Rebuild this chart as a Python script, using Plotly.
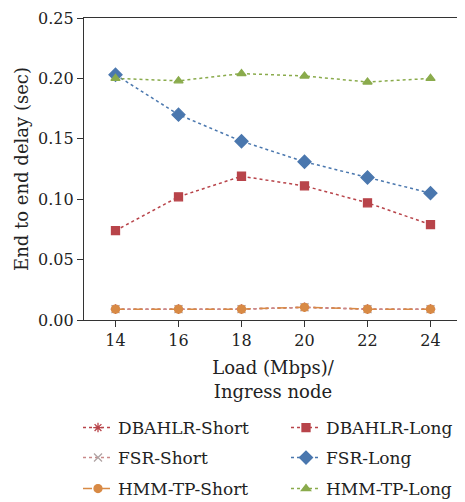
import plotly.graph_objects as go

loads = [14, 16, 18, 20, 22, 24]
dbahlr_short = [0.009, 0.009, 0.009, 0.0105, 0.009, 0.009]
fsr_short = [0.009, 0.009, 0.009, 0.0105, 0.009, 0.009]
hmm_short = [0.009, 0.009, 0.009, 0.0105, 0.009, 0.009]
dbahlr_long = [0.074, 0.102, 0.119, 0.111, 0.097, 0.079]
fsr_long = [0.203, 0.170, 0.148, 0.131, 0.118, 0.105]
hmm_long = [0.200, 0.198, 0.204, 0.202, 0.197, 0.200]

FONT = "DejaVu Serif"
RED = "#b8444a"
BLUE = "#4a77ae"
GREEN = "#8aab4c"
ORANGE = "#d88a45"
PINK = "#c98a8a"
GREY = "#b0a4a4"

# the page body adds an 8px offset; size the figure to fit the window
OFF = 8
W, H = 465 - OFF, 502 - OFF
L, T = 84 - OFF, 18 - OFF
R, B = 3, 182

fig = go.Figure()

def add(name, y, color, dash, symbol, size, legend, mcolor=None, lw=1.5):
    fig.add_trace(go.Scatter(
        x=loads, y=y, name=name, mode="lines+markers",
        line=dict(color=color, dash=dash, width=lw),
        marker=dict(symbol=symbol, size=size, color=mcolor or color,
                    line=dict(color=mcolor or color, width=1.3)),
        legend=legend,
    ))

add("DBAHLR-Short", dbahlr_short, RED, "dot", "asterisk-open", 8, "legend")
add("FSR-Short", fsr_short, PINK, "dot", "x-thin-open", 8, "legend3", mcolor=GREY)
add("HMM-TP-Short", hmm_short, ORANGE, "dash", "circle", 8, "legend5")
add("DBAHLR-Long", dbahlr_long, RED, "dot", "square", 8, "legend2")
add("FSR-Long", fsr_long, BLUE, "dot", "diamond", 10, "legend4")
add("HMM-TP-Long", hmm_long, GREEN, "dot", "triangle-up", 8, "legend6")

def leg(xtext, ytext):
    return dict(orientation="h", xref="container", yref="container",
                x=(xtext - OFF - 40) / W, xanchor="left",
                y=1 - (ytext - OFF) / H, yanchor="middle",
                font=dict(family=FONT, size=17, color="#222"),
                bgcolor="rgba(0,0,0,0)")

X1, X2 = 118, 326
Y1, Y2, Y3 = 428, 458, 489

fig.update_layout(
    width=W, height=H,
    margin=dict(l=L, r=R, t=T, b=B, autoexpand=False),
    plot_bgcolor="white", paper_bgcolor="white",
    font=dict(family=FONT, size=16, color="#222"),
    showlegend=True,
    legend=leg(X1, Y1), legend2=leg(X2, Y1),
    legend3=leg(X1, Y2), legend4=leg(X2, Y2),
    legend5=leg(X1, Y3), legend6=leg(X2, Y3),
    xaxis=dict(range=[13, 25], tickvals=loads, ticks="outside", ticklen=6,
               tickcolor="#333", showline=True, linecolor="#333", linewidth=1.2,
               mirror=True, showgrid=False, zeroline=False,
               tickfont=dict(family=FONT, size=16),
               title=dict(text="Load (Mbps)/<br>Ingress node",
                          font=dict(family=FONT, size=18), standoff=12)),
    yaxis=dict(range=[0, 0.25], tickvals=[0, 0.05, 0.10, 0.15, 0.20, 0.25],
               ticktext=["0.00", "0.05", "0.10", "0.15", "0.20", "0.25"],
               ticks="outside", ticklen=6, tickcolor="#333", showline=True,
               linecolor="#333", linewidth=1.2, mirror=True, showgrid=False,
               zeroline=False, tickfont=dict(family=FONT, size=16),
               title=dict(text="End to end delay (sec)",
                          font=dict(family=FONT, size=18), standoff=4)),
)

fig.write_html("out.html")
